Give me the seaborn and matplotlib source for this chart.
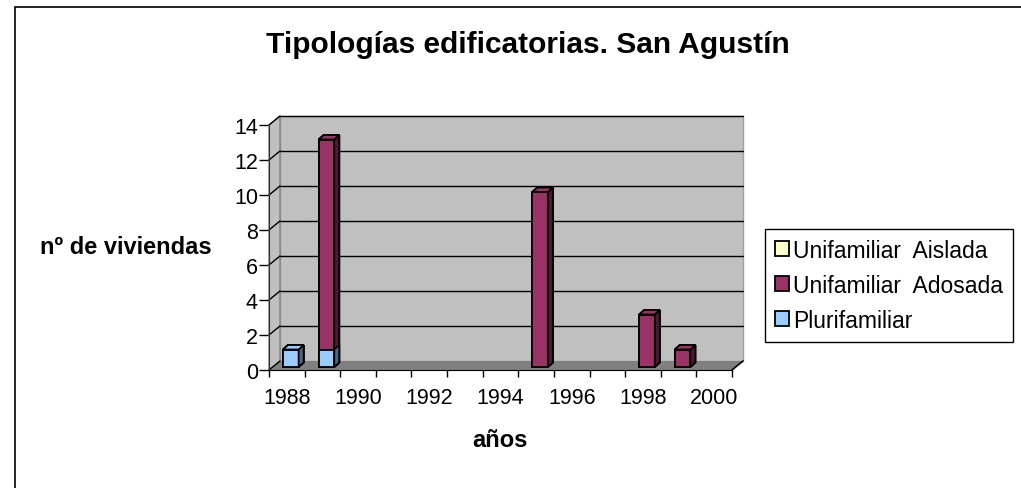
import numpy as np
import pandas as pd
import seaborn as sns
import matplotlib.pyplot as plt
from matplotlib.patches import Polygon, Rectangle, Patch
from matplotlib.transforms import offset_copy, IdentityTransform

# datos
years = [1988, 1989, 1990, 1991, 1992, 1993, 1994, 1995, 1996, 1997, 1998, 1999, 2000]
aislada = [0, 0, 0, 0, 0, 0, 0, 0, 0, 0, 0, 0, 0]
adosada = [0, 12, 0, 0, 0, 0, 0, 10, 0, 0, 3, 1, 0]
plurifamiliar = [1, 1, 0, 0, 0, 0, 0, 0, 0, 0, 0, 0, 0]
series_names = ['Unifamiliar  Aislada', 'Unifamiliar  Adosada', 'Plurifamiliar']
year_labels = [str(y) for y in years]
tick_years = [1988, 1990, 1992, 1994, 1996, 1998, 2000]

col_aislada = '#FFFFCC'
col_adosada = '#993366'
col_pluri = '#99CCFF'
side_aislada = '#80806A'
side_adosada = '#4D1A33'
side_pluri = '#4D6680'

sns.set_style('white')
plt.rcParams['font.family'] = ['Liberation Sans', 'DejaVu Sans']
plt.rcParams['text.color'] = 'black'
plt.rcParams['xtick.color'] = 'black'
plt.rcParams['ytick.color'] = 'black'

df = pd.DataFrame({'year': year_labels, 'aislada': aislada,
                   'adosada': adosada, 'pluri': plurifamiliar})
df['bottom'] = df['pluri']
df['mid'] = df['pluri'] + df['adosada']
df['total'] = df['mid'] + df['aislada']

W, H = 1021, 489
fig = plt.figure(figsize=(W / 100, H / 100), dpi=100)
fig.patch.set_facecolor('white')
ax = fig.add_axes([269 / W, 1 - 371 / H, 463 / W, 245 / H])
ax.set_facecolor('none')
ax.set_xlim(-0.5, 12.5)
ax.set_ylim(0, 14)

# fondo 3D (pared, suelo, pared izquierda)
wdx, wdy = 11, 9
wall_tr = offset_copy(ax.transData, fig=fig, x=wdx, y=wdy, units='dots')
ax.add_patch(Rectangle((-0.5, 0), 13, 14, transform=wall_tr, facecolor='#C0C0C0',
                       edgecolor='#A0A0A0', lw=1, zorder=0.5, clip_on=False))
for yv in range(2, 15, 2):
    ax.plot([-0.5, 12.5], [yv, yv], transform=wall_tr, color='black', lw=1,
            zorder=0.7, clip_on=False)

to_disp = ax.transData.transform
(fx0, fy0), (fx1, fy1) = to_disp([(-0.5, 0), (12.5, 14)])
ident = IdentityTransform()
left_wall = [(fx0, fy0), (fx0, fy1), (fx0 + wdx, fy1 + wdy), (fx0 + wdx, fy0 + wdy)]
ax.add_patch(Polygon(left_wall, closed=True, transform=ident, facecolor='#C0C0C0',
                     edgecolor='#808080', lw=1, zorder=0.6, clip_on=False))
floor = [(fx0, fy0), (fx1, fy0), (fx1 + wdx, fy0 + wdy), (fx0 + wdx, fy0 + wdy)]
ax.add_patch(Polygon(floor, closed=True, transform=ident, facecolor='#808080',
                     edgecolor='none', zorder=0.8, clip_on=False))
ax.plot([fx1, fx1 + wdx], [fy0, fy0 + wdy], transform=ident, color='black', lw=1.2,
        zorder=0.9, clip_on=False)
for yv in range(0, 15, 2):
    _, py = to_disp((-0.5, yv))
    ax.plot([fx0, fx0 + wdx], [py, py + wdy], transform=ident, color='black', lw=1,
            zorder=0.9, clip_on=False)

# barras apiladas
bar_tr = offset_copy(ax.transData, fig=fig, x=4, y=3, units='dots')
bdx, bdy = 5, 4.5
totals = df['total'].values

layers = [('total', col_aislada, side_aislada, 3),
          ('mid', col_adosada, side_adosada, 4),
          ('bottom', col_pluri, side_pluri, 5)]
for col, face, side, z in layers:
    sub = df[df[col] > 0]
    sns.barplot(data=sub, x='year', y=col, order=year_labels, color=face,
                saturation=1, width=0.44, edgecolor='black', linewidth=1.3,
                errorbar=None, ax=ax, zorder=z)
    for p in ax.containers[-1].patches:
        p.set_transform(bar_tr)
        x0, y0 = p.get_xy()
        w, h = p.get_width(), p.get_height()
        (a0, b0), (a1, b1) = bar_tr.transform([(x0, y0), (x0 + w, y0 + h)])
        side_pts = [(a1, b0), (a1 + bdx, b0 + bdy), (a1 + bdx, b1 + bdy), (a1, b1)]
        ax.add_patch(Polygon(side_pts, closed=True, transform=ident, facecolor=side,
                             edgecolor='black', lw=1.3, zorder=z, clip_on=False))
        idx = int(round(x0 + w / 2))
        if h == totals[idx]:
            top_pts = [(a0, b1), (a1, b1), (a1 + bdx, b1 + bdy), (a0 + bdx, b1 + bdy)]
            ax.add_patch(Polygon(top_pts, closed=True, transform=ident, facecolor=face,
                                 edgecolor='black', lw=1.3, zorder=z, clip_on=False))

ax.set_xlim(-0.5, 12.5)
ax.set_ylim(0, 14)

# ejes
for s in ['top', 'right']:
    ax.spines[s].set_visible(False)
ax.spines['left'].set_color('#303030')
ax.spines['bottom'].set_color('black')
ax.spines['left'].set_zorder(1)
ax.spines['bottom'].set_zorder(1)
ax.set_yticks(range(0, 15, 2))
ax.set_xticks([years.index(y) for y in tick_years], [str(y) for y in tick_years])
ax.set_xticks(np.arange(-0.5, 13, 1), minor=True)
ax.tick_params(axis='y', which='major', direction='out', length=7, width=1,
               color='black', labelsize=15.5, pad=1, left=True)
ax.tick_params(axis='x', which='major', length=0, labelsize=15.5, pad=12)
ax.tick_params(axis='x', which='minor', direction='out', length=5, width=1,
               color='black', bottom=True)
ax.set_xlabel('')
ax.set_ylabel('')

# textos
fig.text(528 / W, 1 - 45 / H, 'Tipologías edificatorias. San Agustín', ha='center',
         va='center', fontsize=21.5, fontweight='bold')
fig.text(40 / W, 1 - 248 / H, 'nº de viviendas', ha='left', va='center',
         fontsize=17, fontweight='bold')
fig.text(500 / W, 1 - 441 / H, 'años', ha='center', va='center',
         fontsize=17, fontweight='bold')

# leyenda
handles = [Patch(facecolor=c, edgecolor='black', lw=1.3)
           for c in [col_aislada, col_adosada, col_pluri]]
leg = ax.legend(handles, series_names, loc='upper left',
                bbox_to_anchor=(765 / W, 1 - 230 / H), bbox_transform=fig.transFigure,
                fontsize=16.5, frameon=True, fancybox=False, edgecolor='black',
                framealpha=1, handlelength=0.62, handleheight=0.62, handletextpad=0.2,
                labelspacing=0.53, borderpad=0.42, borderaxespad=0)
leg.get_frame().set_linewidth(1)

# marco exterior
fig.add_artist(Rectangle((15 / W, -0.1), 2, 1.1 - 8 / H, transform=fig.transFigure,
                         fill=False, edgecolor='black', lw=1.2))

fig.savefig('out.png', dpi=100)
